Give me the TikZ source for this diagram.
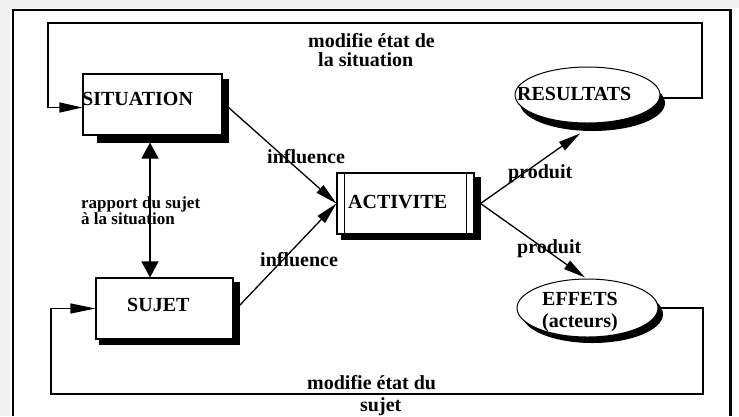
\documentclass[tikz,border=0pt]{standalone}
\usepackage{fontspec}
\setmainfont{Liberation Serif}
\usetikzlibrary{arrows.meta,backgrounds,shapes.geometric}
\begin{document}
\begin{tikzpicture}[x=1pt,y=-1pt,
  box/.style={draw,line width=1.1pt,fill=white,rectangle,inner sep=0pt},
  oval/.style={draw,line width=1pt,fill=white,ellipse,inner sep=0pt},
  txt/.style={inner sep=0pt,anchor=base west,font=\bfseries\fontsize{20}{22}\selectfont},
  smalltxt/.style={inner sep=0pt,anchor=base west,font=\bfseries\fontsize{17}{19}\selectfont},
  conn/.style={line width=1.3pt},
  longtip/.style={-{Triangle[length=22pt,width=10pt]}},
  widetip/.style={{Triangle[length=16pt,width=17pt]}-{Triangle[length=16pt,width=17pt]}}
]
\useasboundingbox (0,0) rectangle (739,416);
% nodes
\node[box,minimum width=139pt,minimum height=61pt] (sit) at (152.5,104.5) {};
\node[box,minimum width=137pt,minimum height=61pt] (suj) at (164.5,308.5) {};
\node[box,minimum width=137pt,minimum height=61pt] (act) at (405.5,203.5) {};
\node[oval,minimum width=145pt,minimum height=56pt] (res) at (587.5,95) {};
\node[oval,minimum width=141pt,minimum height=58pt] (eff) at (587.5,308) {};
\draw[line width=1pt] ([xshift=8pt]act.north west) -- ([xshift=8pt]act.south west);
\draw[line width=1pt] ([xshift=-8pt]act.north east) -- ([xshift=-8pt]act.south east);
% background and shadows
\begin{scope}[on background layer]
  \fill[white] (0,0) rectangle (739,416);
  \fill[gray!12] (0,0) rectangle (739,8);
  \fill[gray!12] (0,0) rectangle (10,416);
  \fill ([shift={(15,6)}]sit.north west) rectangle ([shift={(6,7)}]sit.south east);
  \fill ([shift={(4,5)}]suj.north west) rectangle ([shift={(6,5)}]suj.south east);
  \fill ([shift={(5,5)}]act.north west) rectangle ([shift={(6,5)}]act.south east);
  \fill ([shift={(5,8)}]res.center) ellipse [x radius=72.5pt, y radius=28pt];
  \fill ([shift={(5,6)}]eff.center) ellipse [x radius=70.5pt, y radius=29pt];
\end{scope}
% frame
\draw[line width=2pt] (12.5,416) -- (12.5,10) -- (731,10);
\draw[line width=3pt] (730,9) -- (730,416);
% loops
\coordinate (tr) at (702,23);
\coordinate (tl) at (48,23);
\draw[conn,-{Triangle[length=23pt,width=10pt]}] ([yshift=-3pt]res.east) -| (tr) -- (tl) |- ([yshift=-3pt]sit.west);
\coordinate (br) at (703,394);
\coordinate (bl) at (51,394);
\draw[conn,-{Triangle[length=25pt,width=10pt]}] (eff.east) -| (br) -- (bl) |- (suj.west);
% double arrow
\draw[conn,widetip] ([shift={(-2.5,7)}]sit.south) -- ([xshift=-14.5pt]suj.north);
% influence
\draw[conn,longtip] ([shift={(6,3)}]sit.east) -- (act.west);
\draw[conn,longtip] ([shift={(5,-2)}]suj.east) -- (act.west);
% produit
\draw[conn,longtip] ([xshift=6pt]act.east) -- ([shift={(-7.5,10)}]res.south);
\draw[conn,longtip] ([xshift=6pt]act.east) -- ([shift={(-2.5,-1)}]eff.north);
% texts
\node[txt] (tsit) at (82,105) {SITUATION};
\node[txt] (tsuj) at (127,311) {SUJET};
\node[txt] (tact) at (348,208) {ACTIVITE};
\node[txt] (tres) at (517,100) {RESULTATS};
\node[txt,anchor=base] (teff1) at (580,305) {EFFETS};
\node[txt,anchor=base] (teff2) at (580,327) {(acteurs)};
\node[txt] (l1) at (267,163) {influence};
\node[txt] (l2) at (260,266) {influence};
\node[txt] (l3) at (508,178) {produit};
\node[txt] (l4) at (517,253) {produit};
\node[smalltxt] (l5) at (81,208) {rapport du sujet};
\node[smalltxt] (l6) at (81,224) {à la situation};
\node[txt] (l7) at (308,47) {modifie état de};
\node[txt] (l8) at (318,66) {la situation};
\node[txt] (l9) at (307,389) {modifie état du};
\node[txt] (l10) at (360,411) {sujet};
\end{tikzpicture}
\end{document}
